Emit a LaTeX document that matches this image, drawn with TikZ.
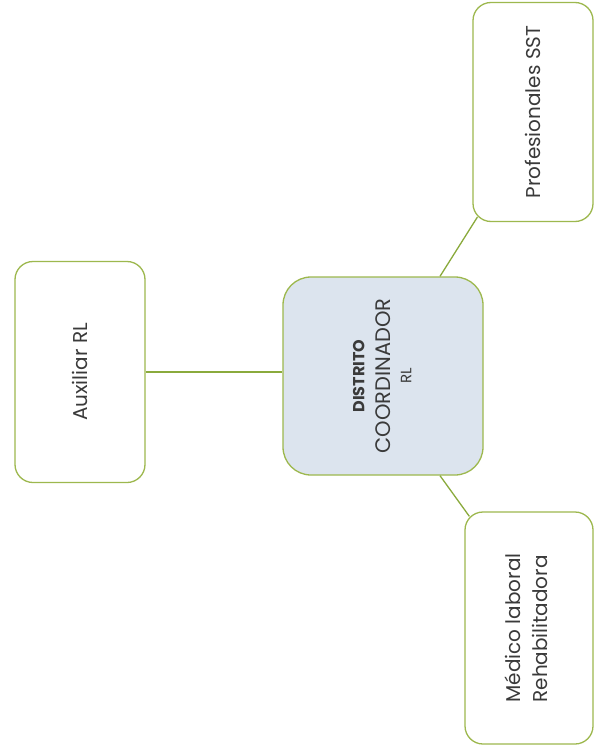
\documentclass[tikz,border=0pt]{standalone}
\usepackage{fontspec}
\usepackage{graphicx}
\setmainfont{Poppins}
\usetikzlibrary{calc}
\definecolor{bordergreen}{HTML}{9DB84E}
\definecolor{linegreen}{HTML}{8AAA3C}
\definecolor{centerfill}{HTML}{DCE4EE}
\definecolor{textgray}{HTML}{3A3A3A}
\tikzset{
  box/.style={draw=bordergreen, line width=1.3pt, rounded corners=18pt, fill=white, inner sep=0pt, font=\fontsize{20}{24}\selectfont, text=textgray, align=center},
  centerbox/.style={box, fill=centerfill, rounded corners=28pt},
  conn/.style={draw=linegreen, line width=1.3pt}
}
\begin{document}
\begin{tikzpicture}[x=1pt,y=-1pt]
\useasboundingbox (0,0) rectangle (597,752);
\fill[white] (0,0) rectangle (597,752);
\node[box, minimum width=130pt, minimum height=221pt] (aux) at (80,372) {\rotatebox{90}{Auxiliar RL}};
\node[centerbox, minimum width=200pt, minimum height=198pt] (c) at (383,376) {\rotatebox{90}{\begin{tabular}{c}{\fontsize{16}{20}\selectfont\bfseries DISTRITO}\\[2pt]{\fontsize{21}{25}\selectfont COORDINADOR}\\[-3pt]{\fontsize{15}{17}\selectfont RL}\end{tabular}}};
\node[box, minimum width=120pt, minimum height=219pt] (p) at (533,112) {\rotatebox{90}{Profesionales SST}};
\node[box, minimum width=128pt, minimum height=232pt] (m) at (529,628) {\rotatebox{90}{\begin{tabular}{l}Médico laboral\\[3pt]Rehabilitadora\end{tabular}}};
\path[conn] (aux.east) -- (aux.east -| c.west);
\path[conn] ($(c.north)+(57,0)$) -- ($(p.south west)+(5,-5)$);
\path[conn] ($(c.south)+(57,0)$) -- ($(m.north west)+(5,5)$);
\end{tikzpicture}
\end{document}
